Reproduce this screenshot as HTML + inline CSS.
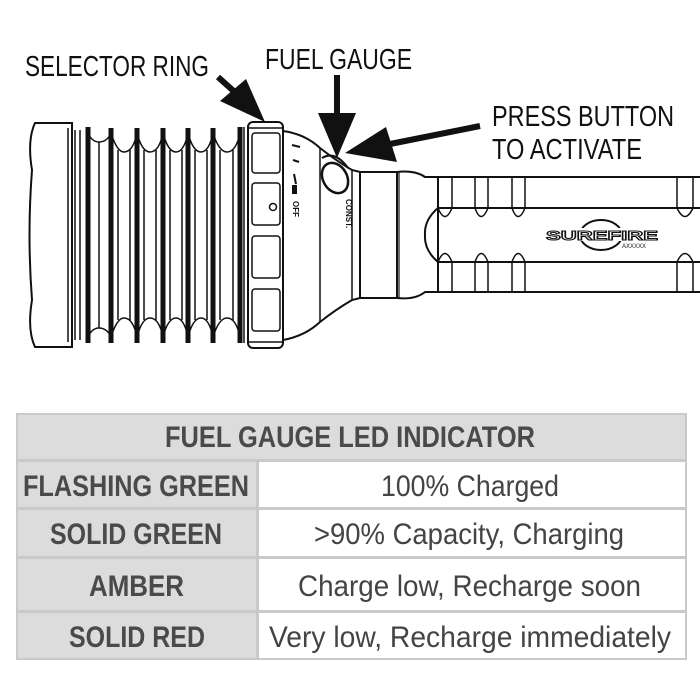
<!DOCTYPE html>
<html><head><style>
html,body{margin:0;padding:0;background:#fff;width:700px;height:700px;overflow:hidden}
svg{display:block}
.lbl{font-family:"Liberation Sans Narrow","Liberation Sans",sans-serif;font-size:29px;fill:#111}
.th{font-family:"Liberation Sans Narrow","Liberation Sans",sans-serif;font-weight:bold;fill:#4a4a4a}
.td{font-family:"Liberation Sans Narrow","Liberation Sans",sans-serif;fill:#444}
</style></head><body>
<svg width="700" height="700" viewBox="0 0 700 700" xmlns="http://www.w3.org/2000/svg">
<rect width="700" height="700" fill="#fff"/>
<text class="lbl" x="25" y="76" textLength="184" lengthAdjust="spacingAndGlyphs">SELECTOR RING</text>
<text class="lbl" x="265" y="69" textLength="147" lengthAdjust="spacingAndGlyphs">FUEL GAUGE</text>
<text class="lbl" x="492" y="126" textLength="182" lengthAdjust="spacingAndGlyphs">PRESS BUTTON</text>
<text class="lbl" x="492" y="159" textLength="150" lengthAdjust="spacingAndGlyphs">TO ACTIVATE</text>
<g fill="#111" stroke="#111">
<line x1="218" y1="77" x2="238" y2="95" stroke-width="6"/>
<polygon points="220,101 246,79 265,122" stroke="none"/>
<line x1="337" y1="75" x2="337" y2="115" stroke-width="6"/>
<polygon points="318,113 356,113 337,158" stroke="none"/>
<line x1="480" y1="126" x2="390" y2="144" stroke-width="6"/>
<polygon points="386,127 397,162 345,153" stroke="none"/>
</g>
<g fill="none" stroke="#111" stroke-width="2">
<path d="M35,123 L72,123 L72,347 L35,347 Q27,330 32,300 Q27,235 32,170 Q27,140 35,123 Z" fill="#fff"/>
<line x1="68" y1="128" x2="68" y2="342" stroke-width="1.5"/>
<line x1="75" y1="130" x2="75" y2="340" stroke-width="1.5"/>
<line x1="80" y1="130" x2="80" y2="340" stroke-width="1.5"/>
<g stroke-width="5">
<line x1="88" y1="127" x2="88" y2="343"/>
<line x1="111" y1="128" x2="111" y2="343"/>
<line x1="137" y1="128" x2="137" y2="343"/>
<line x1="163" y1="128" x2="163" y2="343"/>
<line x1="188" y1="128" x2="188" y2="343"/>
<line x1="213" y1="128" x2="213" y2="343"/>
<line x1="240" y1="127" x2="240" y2="343"/>
</g>
<g stroke-width="1.5">
<path d="M88,133 Q92,142 99,142 Q107,142 111,133 Q117,152 124,152 Q133,152 137,133 Q142,152 150,152 Q159,152 163,133 Q168,152 176,152 Q184,152 188,133 Q193,152 201,152 Q209,152 213,133 Q219,152 227,152 Q236,152 240,133"/>
<path d="M88,337 Q92,328 99,328 Q107,328 111,337 Q117,318 124,318 Q133,318 137,337 Q142,318 150,318 Q159,318 163,337 Q168,318 176,318 Q184,318 188,337 Q193,318 201,318 Q209,318 213,337 Q219,318 227,318 Q236,318 240,337"/>
<line x1="99" y1="142" x2="99" y2="328"/>
<line x1="118" y1="150" x2="118" y2="320"/><line x1="130" y1="150" x2="130" y2="320"/>
<line x1="144" y1="150" x2="144" y2="320"/><line x1="156" y1="150" x2="156" y2="320"/>
<line x1="170" y1="150" x2="170" y2="320"/><line x1="182" y1="150" x2="182" y2="320"/>
<line x1="195" y1="150" x2="195" y2="320"/><line x1="207" y1="150" x2="207" y2="320"/>
<line x1="220" y1="150" x2="220" y2="320"/><line x1="233" y1="150" x2="233" y2="320"/>
<line x1="244" y1="127" x2="244" y2="343"/>
</g>
<path d="M283,131 Q305,134 320,148 Q338,162 352,170 L360,172 L397,172 L397,298 L360,298 L352,300 Q335,310 320,322 Q305,336 283,340" fill="#fff"/>
<line x1="320" y1="148" x2="320" y2="322" stroke-width="1.5"/>
<line x1="352" y1="170" x2="352" y2="300" stroke-width="1.5"/>
<rect x="248" y="122" width="35" height="226" rx="5" fill="#fff"/>
<g stroke-width="1.5">
<rect x="252" y="133" width="28" height="40" rx="3"/>
<rect x="252" y="183" width="28" height="42" rx="3"/>
<rect x="252" y="236" width="28" height="42" rx="3"/>
<rect x="252" y="289" width="28" height="42" rx="3"/>
<line x1="248" y1="128" x2="283" y2="128"/>
<line x1="248" y1="342" x2="283" y2="342"/>
<circle cx="273" cy="207" r="3.5"/>
</g>
<line x1="292" y1="145" x2="300" y2="147"/>
<line x1="293" y1="160" x2="299" y2="162"/>
<line x1="294" y1="174" x2="296" y2="184"/>
<ellipse cx="335" cy="178" rx="12" ry="16" transform="rotate(-30 335 178)" fill="#fff" stroke-width="2.5"/>
<path d="M322,158 Q335,150 348,168" stroke-width="2"/>
<line x1="360" y1="172" x2="360" y2="298"/>
<line x1="397" y1="172" x2="397" y2="298"/>
<line x1="399" y1="172" x2="399" y2="298" stroke-width="1.2"/>
<path d="M397,172 Q415,170 425,177 L700,177"/>
<path d="M397,298 Q415,300 425,292 L700,292"/>
<line x1="438" y1="177" x2="438" y2="292"/>
<line x1="438" y1="208" x2="700" y2="208"/>
<line x1="438" y1="262" x2="700" y2="262"/>
<path d="M438,208 Q424,220 425,235 Q424,250 438,262"/>
<g stroke-width="1.5">
<line x1="452" y1="177" x2="452" y2="208"/><line x1="475" y1="177" x2="475" y2="208"/>
<line x1="488" y1="177" x2="488" y2="208"/><line x1="512" y1="177" x2="512" y2="208"/>
<line x1="525" y1="177" x2="525" y2="208"/>
<line x1="452" y1="262" x2="452" y2="292"/><line x1="475" y1="262" x2="475" y2="292"/>
<line x1="488" y1="262" x2="488" y2="292"/><line x1="512" y1="262" x2="512" y2="292"/>
<line x1="525" y1="262" x2="525" y2="292"/>
<line x1="677" y1="177" x2="677" y2="208"/><line x1="693" y1="177" x2="693" y2="208"/>
<line x1="677" y1="262" x2="677" y2="292"/><line x1="693" y1="262" x2="693" y2="292"/>
<path d="M438,208 Q445,225 452,208 M475,208 Q481,225 488,208 M512,208 Q518,225 525,208 M677,208 Q685,225 693,208"/>
<path d="M438,262 Q445,245 452,262 M475,262 Q481,245 488,262 M512,262 Q518,245 525,262 M677,262 Q685,245 693,262"/>
</g>
<ellipse cx="601" cy="235" rx="21" ry="15" stroke-width="2"/>
</g>
<rect x="546" y="228" width="112" height="13" fill="#fff"/>
<text x="546" y="240" font-family="Liberation Sans" font-weight="bold" font-size="13" fill="#fff" stroke="#111" stroke-width="1" textLength="112" lengthAdjust="spacingAndGlyphs">SUREFIRE</text>
<text x="622" y="248" font-family="Liberation Sans" font-size="6" fill="#111">AXXXXX</text>
<text x="0" y="0" font-family="Liberation Sans" font-weight="bold" font-size="8" fill="#111" transform="translate(346,199) rotate(90)">CONST.</text>
<text x="0" y="0" font-family="Liberation Sans" font-weight="bold" font-size="8" fill="#111" transform="translate(293,201) rotate(90)">OFF</text>
<rect x="292" y="185" width="5" height="9" fill="#111"/>
<rect x="16" y="413" width="671" height="247" fill="#c9c9c9"/>
<rect x="18" y="415" width="667" height="44" fill="#dcdcdc"/>
<rect x="18" y="462" width="238" height="45" fill="#dcdcdc"/>
<rect x="18" y="510" width="238" height="46" fill="#dcdcdc"/>
<rect x="18" y="559" width="238" height="51" fill="#dcdcdc"/>
<rect x="18" y="613" width="238" height="45" fill="#dcdcdc"/>
<rect x="259" y="462" width="426" height="45" fill="#fff"/>
<rect x="259" y="510" width="426" height="46" fill="#fff"/>
<rect x="259" y="559" width="426" height="51" fill="#fff"/>
<rect x="259" y="613" width="426" height="45" fill="#fff"/>
<text class="th" x="165" y="447" font-size="30" textLength="370" lengthAdjust="spacingAndGlyphs">FUEL GAUGE LED INDICATOR</text>
<text class="th" x="23" y="496" font-size="30" textLength="226" lengthAdjust="spacingAndGlyphs">FLASHING GREEN</text>
<text class="th" x="50" y="544" font-size="30" textLength="172" lengthAdjust="spacingAndGlyphs">SOLID GREEN</text>
<text class="th" x="89" y="596" font-size="30" textLength="95" lengthAdjust="spacingAndGlyphs">AMBER</text>
<text class="th" x="69" y="647" font-size="30" textLength="136" lengthAdjust="spacingAndGlyphs">SOLID RED</text>
<text class="td" x="381" y="496" font-size="30" textLength="178" lengthAdjust="spacingAndGlyphs">100% Charged</text>
<text class="td" x="314" y="544" font-size="30" textLength="310" lengthAdjust="spacingAndGlyphs">&gt;90% Capacity, Charging</text>
<text class="td" x="298" y="596" font-size="30" textLength="343" lengthAdjust="spacingAndGlyphs">Charge low, Recharge soon</text>
<text class="td" x="269" y="647" font-size="30" textLength="402" lengthAdjust="spacingAndGlyphs">Very low, Recharge immediately</text>
</svg>
</body></html>
